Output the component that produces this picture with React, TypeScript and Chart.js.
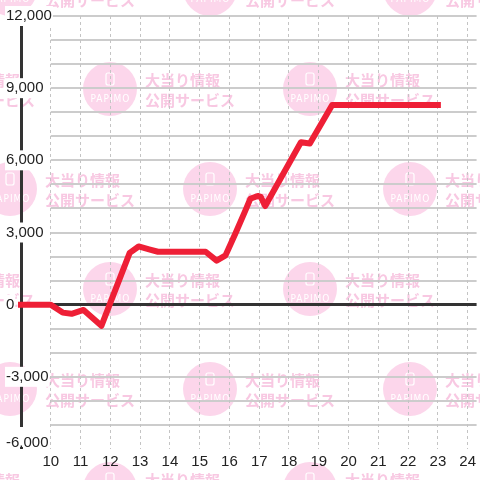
import React, { useEffect, useRef } from 'react';
import { Chart, registerables } from 'chart.js';

Chart.register(...registerables);

// Hours of the day (x) and cumulative values (y)
const hours = [9, 10, 10.4, 10.7, 11.1, 11.7, 12.65, 12.95, 13.3, 13.6, 15.2, 15.57, 15.87, 16.2, 16.53, 16.7, 16.95, 17.05, 17.2, 18.4, 18.7, 19.45, 23];
const values = [0, 0, -330, -380, -220, -880, 2150, 2420, 2300, 2200, 2200, 1830, 2050, 2960, 3900, 4400, 4520, 4480, 4100, 6750, 6700, 8300, 8300];

const xTickValues = [10, 11, 12, 13, 14, 15, 16, 17, 18, 19, 20, 21, 22, 23, 24];
const yTickValues = [-6000, -5000, -4000, -3000, -2000, -1000, 0, 1000, 2000, 3000, 4000, 5000, 6000, 7000, 8000, 9000, 10000, 11000, 12000];
const yLabelStep = 3000;
const gridStartHour = 10;

const watermarkLine1 = '大当り情報';
const watermarkLine2 = '公開サービス';
const watermarkBadge = 'PAPIMO';

const FONT = '"Liberation Sans", Arial, sans-serif';

const backgroundPlugin = {
  id: 'backgroundPlugin',
  beforeDraw(chart: any) {
    const ctx: CanvasRenderingContext2D = chart.ctx;
    const W = chart.width;
    const H = chart.height;
    const xs = chart.scales.x;
    const ys = chart.scales.y;

    // keep the lowest y label inside the plot, as in the source
    const items = ys.getLabelItems(chart.chartArea);
    if (items && items.length && !(items as any)._shifted) {
      (items as any)._shifted = true;
      const first = items[0];
      if (first && first.options && first.options.translation) {
        first.options.translation[1] -= 6;
        if (first.options.backdrop) first.options.backdrop.top -= 6;
      }
    }

    ctx.save();
    ctx.fillStyle = '#ffffff';
    ctx.fillRect(0, 0, W, H);
    // watermark tiles
    const centers: [number, number][] = [];
    for (let j = -1; j <= 3; j++) {
      for (let i = -1; i <= 3; i++) {
        centers.push([110 + 200 * i, 89 + 200 * j]);
        centers.push([10 + 200 * i, 189 + 200 * j]);
      }
    }
    for (const [cx, cy] of centers) {
      if (cx < -150 || cx > W + 40 || cy < -40 || cy > H + 40) continue;
      ctx.fillStyle = '#fcd6eb';
      ctx.beginPath();
      ctx.arc(cx, cy, 27, 0, Math.PI * 2);
      ctx.fill();
      // phone icon
      ctx.strokeStyle = '#ffffff';
      ctx.lineWidth = 1.2;
      ctx.beginPath();
      const iw = 8, ih = 12, ix = cx - 4, iy = cy - 16;
      ctx.moveTo(ix + 2, iy);
      ctx.lineTo(ix + iw - 2, iy);
      ctx.quadraticCurveTo(ix + iw, iy, ix + iw, iy + 2);
      ctx.lineTo(ix + iw, iy + ih - 2);
      ctx.quadraticCurveTo(ix + iw, iy + ih, ix + iw - 2, iy + ih);
      ctx.lineTo(ix + 2, iy + ih);
      ctx.quadraticCurveTo(ix, iy + ih, ix, iy + ih - 2);
      ctx.lineTo(ix, iy + 2);
      ctx.quadraticCurveTo(ix, iy, ix + 2, iy);
      ctx.stroke();
      ctx.fillStyle = '#ffffff';
      ctx.font = '10px "DejaVu Sans Condensed", sans-serif';
      ctx.textAlign = 'center';
      ctx.textBaseline = 'middle';
      (ctx as any).letterSpacing = '1px';
      ctx.fillText(watermarkBadge, cx + 0.5, cy + 10);
      (ctx as any).letterSpacing = '0px';
      ctx.fillStyle = '#f8c8e2';
      ctx.font = 'bold 15px "Noto Sans CJK JP", sans-serif';
      ctx.textAlign = 'left';
      ctx.fillText(watermarkLine1, cx + 35, cy - 9);
      ctx.fillText(watermarkLine2, cx + 35, cy + 11);
    }
    // horizontal grid lines (starting at the first hour line)
    const x0 = xs.getPixelForValue(gridStartHour);
    ctx.strokeStyle = '#cccccc';
    ctx.lineWidth = 2;
    for (const v of yTickValues) {
      if (v === 0 || v === yTickValues[0]) continue;
      const py = Math.round(ys.getPixelForValue(v));
      ctx.beginPath();
      ctx.moveTo(x0, py);
      ctx.lineTo(chart.chartArea.right, py);
      ctx.stroke();
    }
    ctx.restore();
  },
};

export default function App() {
  const canvasRef = useRef<HTMLCanvasElement | null>(null);

  useEffect(() => {
    const canvas = canvasRef.current;
    if (!canvas) return;
    const chart = new Chart(canvas, {
      type: 'line',
      data: {
        datasets: [
          {
            data: hours.map((h, i) => ({ x: h, y: values[i] })),
            borderColor: '#ee1f36',
            borderWidth: 6,
            pointRadius: 0,
            tension: 0,
            borderJoinStyle: 'round',
            borderCapStyle: 'square',
            fill: false,
            clip: false as any,
          },
        ],
      },
      options: {
        animation: false,
        responsive: false,
        devicePixelRatio: 1,
        layout: { padding: { left: 6, top: 16, right: 0, bottom: 0 } },
        plugins: {
          legend: { display: false },
          tooltip: { enabled: false },
        },
        scales: {
          x: {
            type: 'linear',
            min: 9,
            max: 24.3,
            afterBuildTicks: (s: any) => {
              s.ticks = xTickValues.map((v) => ({ value: v }));
            },
            afterFit: (s: any) => {
              s.height = 31;
            },
            grid: { drawTicks: false, color: '#c4c4c4', lineWidth: 1 },
            border: { display: false, dash: [3, 3] },
            ticks: {
              padding: 4,
              autoSkip: false,
              maxRotation: 0,
              color: '#222',
              font: { family: FONT, size: 15 },
              callback: (v: any) => String(v),
            },
          },
          y: {
            min: -6000,
            max: 12000,
            afterBuildTicks: (s: any) => {
              s.ticks = yTickValues.map((v) => ({ value: v }));
            },
            afterFit: (s: any) => {
              s.width = 15;
            },
            grid: {
              drawTicks: false,
              color: (c: any) => (c.tick && c.tick.value === 0 ? '#333333' : 'rgba(0,0,0,0)'),
              lineWidth: (c: any) => (c.tick && c.tick.value === 0 ? 3 : 0),
            },
            border: { display: true, color: '#333333', width: 3 },
            ticks: {
              mirror: true,
              crossAlign: 'near',
              padding: -15,
              autoSkip: false,
              color: '#222',
              font: { family: FONT, size: 15 },
              callback: (v: any) => (Number(v) % yLabelStep === 0 ? Number(v).toLocaleString('en-US') : ''),
              showLabelBackdrop: (c: any) => !!c.tick && c.tick.value % yLabelStep === 0,
              backdropColor: '#ffffff',
              backdropPadding: { top: 1, bottom: 1, left: 1, right: 1 },
            },
          },
        },
      } as any,
      plugins: [backgroundPlugin],
    });
    return () => chart.destroy();
  }, []);

  return (
    <div style={{ position: 'absolute', left: 0, top: 0, width: 480, height: 480, overflow: 'hidden', background: '#fff' }}>
      <canvas ref={canvasRef} width={480} height={480} style={{ display: 'block' }} />
    </div>
  );
}
